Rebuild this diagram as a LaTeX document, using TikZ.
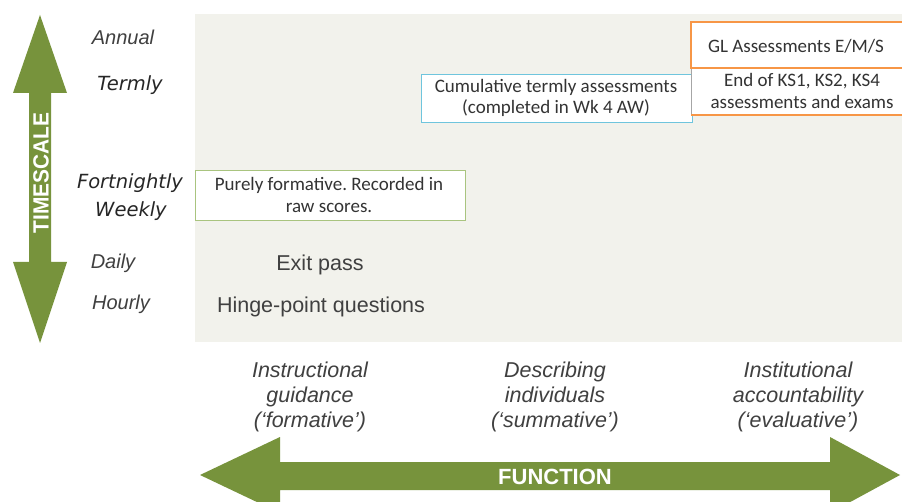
\documentclass[tikz,border=0pt]{standalone}
\usepackage{fontspec}
\setmainfont{Liberation Sans}
\newfontfamily\arialf{Liberation Sans}
\newfontfamily\verdf{DejaVu Sans}
\newfontfamily\calibf{Carlito}
\definecolor{arrowgreen}{HTML}{77933C}
\definecolor{panel}{HTML}{F2F2EC}
\definecolor{greytext}{HTML}{404040}
\definecolor{boxgreen}{HTML}{A9C47F}
\definecolor{boxcyan}{HTML}{6FC5DD}
\definecolor{boxorange}{HTML}{F79646}
\tikzset{
  scalelbl/.style={font=\arialf\itshape\fontsize{20}{22}\selectfont, text=greytext, inner sep=0pt},
  scalelblv/.style={font=\verdf\itshape\fontsize{19.5}{22}\selectfont, text=black!85, inner sep=0pt},
  funclbl/.style={font=\arialf\itshape\fontsize{21.5}{25}\selectfont, text=greytext, align=center, inner sep=0pt},
  boxtxt/.style={font=\calibf\fontsize{19}{21.5}\selectfont, text=black!80, align=center, inner sep=0pt},
  plain/.style={font=\arialf\fontsize{21.5}{23}\selectfont, text=greytext, inner sep=0pt},
  bigarrow/.style={fill=arrowgreen, draw=none},
  arrowlbl/.style={font=\arialf\bfseries\fontsize{22}{24}\selectfont, text=white, inner sep=0pt}
}
\begin{document}
\frenchspacing
\begin{tikzpicture}[x=1pt,y=-1pt]
\useasboundingbox (0,0) rectangle (902,502);
\fill[white] (0,0) rectangle (902,502);
% panel
\fill[panel] (195,14) rectangle (902,342);
% vertical arrow
\fill[bigarrow] (40,15) -- (67,93) -- (51,93) -- (51,262) -- (67,262) -- (40,343)
  -- (13,262) -- (29,262) -- (29,93) -- (13,93) -- cycle;
\node[arrowlbl, rotate=90] (timescale) at (41,173) {\scalebox{0.95}[1]{TIMESCALE}};
% horizontal arrow
\fill[bigarrow] (200,475) -- (280,437) -- (280,462) -- (830,462) -- (830,437) -- (900,475)
  -- (830,513) -- (830,490) -- (280,490) -- (280,513) -- cycle;
\node[arrowlbl] (function) at (555,477) {FUNCTION};
% timescale labels
\node[scalelbl] (annual) at (123,37) {Annual};
\node[scalelblv] (termly) at (130,85) {Termly};
\node[scalelblv] (fortnightly) at (130,183) {Fortnightly};
\node[scalelblv] (weekly) at (131,211) {Weekly};
\node[scalelbl] (daily) at (113,263) {Daily};
\node[scalelbl] (hourly) at (121,304) {Hourly};
% boxes
\draw[boxgreen, fill=white, line width=0.8pt] (195,170) rectangle (465,220);
\node[boxtxt] (formbox) at (329,195) {Purely formative. Recorded in\\raw scores.};
\draw[boxcyan, fill=white, line width=1pt] (421,75) rectangle (692,123);
\node[boxtxt] (cumbox) at (556,98) {Cumulative termly assessments\\(completed in Wk 4 AW)};
\fill[white] (691,22) rectangle (902,115);
\draw[black!35, line width=0.8pt] (691,68) -- (691,115);
\draw[boxorange, line width=1.2pt] (902,22) -- (691,22) -- (691,68) -- (902,68);
\draw[boxorange, line width=1.2pt] (691,115) -- (902,115);
\node[boxtxt] (glbox) at (796,46) {GL Assessments E/M/S};
\node[boxtxt] (ksbox) at (802,91) {End of KS1, KS2, KS4\\assessments and exams};
% panel texts
\node[plain] (exit) at (320,265) {Exit pass};
\node[plain] (hinge) at (321,307) {Hinge-point questions};
% function labels
\node[funclbl] (instr) at (310,397) {Instructional\\guidance\\(‘formative’)};
\node[funclbl] (descr) at (555,397) {Describing\\individuals\\(‘summative’)};
\node[funclbl] (inst) at (798,397) {Institutional\\accountability\\(‘evaluative’)};
\end{tikzpicture}
\end{document}
